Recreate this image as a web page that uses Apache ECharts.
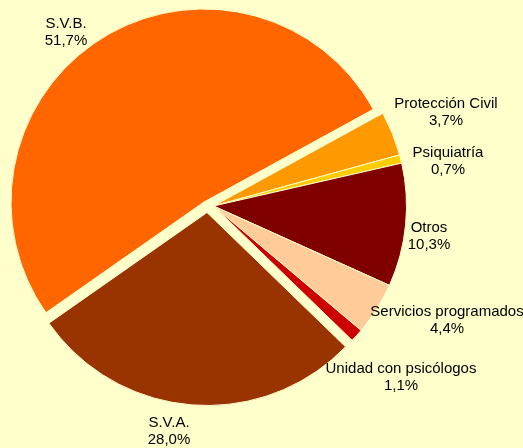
<!DOCTYPE html>
<html>
<head>
<meta charset="utf-8">
<script src="https://cdn.jsdelivr.net/npm/echarts@6/dist/echarts.min.js"></script>
<style>
html,body{margin:0;padding:0;background:#FFFFCC;}
#chart{width:523px;height:448px;}
</style>
</head>
<body>
<div id="chart"></div>
<script>
var names = ['S.V.B.','Protección Civil','Psiquiatría','Otros','Servicios programados','Unidad con psicólogos','S.V.A.'];
var values = [51.7,3.7,0.7,10.3,4.4,1.1,28.0];
var colors = ['#FF6600','#FF9900','#FFCC00','#800000','#FFCC99','#CC0000','#993300'];
// centro de cada etiqueta (texto en dos lineas)
var labelAt = [[66,32],[446,112],[448,161],[429,236],[447,320],[401,377],[169,431]];

// porciones separadas: cada grupo es una serie con su propio centro
var groups = [
	{center:[213.5,206],items:['Protección Civil','Psiquiatría','Otros','Servicios programados','Unidad con psicólogos']},
	{center:[204,202],items:['S.V.B.']},
	{center:[207,212.5],items:['S.V.A.']}
];

function buildData(items){
	var data = [];
	for(var i=0;i<names.length;i++){
		var on = items.indexOf(names[i])>=0;
		data.push({
			name:names[i],
			value:values[i],
			itemStyle:on?{color:colors[i]}:{color:'rgba(0,0,0,0)',borderWidth:0},
			label:{show:on}
		});
	}
	return data;
}

var series = [];
for(var g=0;g<groups.length;g++){
	series.push({
		type:'pie',
		center:groups[g].center,
		radius:193,
		startAngle:215,
		clockwise:true,
		avoidLabelOverlap:false,
		emphasis:{disabled:true},
		itemStyle:{borderColor:'#FFFFCC',borderWidth:1},
		label:{
			position:'outside',
			color:'#000',
			fontFamily:'Liberation Sans, Arial, sans-serif',
			fontSize:15,
			lineHeight:17,
			formatter:function(p){
				return p.name+'\n'+p.value.toFixed(1).replace('.',',')+'%';
			}
		},
		labelLine:{show:false},
		labelLayout:function(p){
			var pos = labelAt[p.dataIndex];
			return {x:pos[0],y:pos[1],align:'center',verticalAlign:'middle'};
		},
		data:buildData(groups[g].items)
	});
}

var chart = echarts.init(document.getElementById('chart'),null,{renderer:'canvas'});
chart.setOption({
	backgroundColor:'#FFFFCC',
	animation:false,
	series:series
});
</script>
</body>
</html>
